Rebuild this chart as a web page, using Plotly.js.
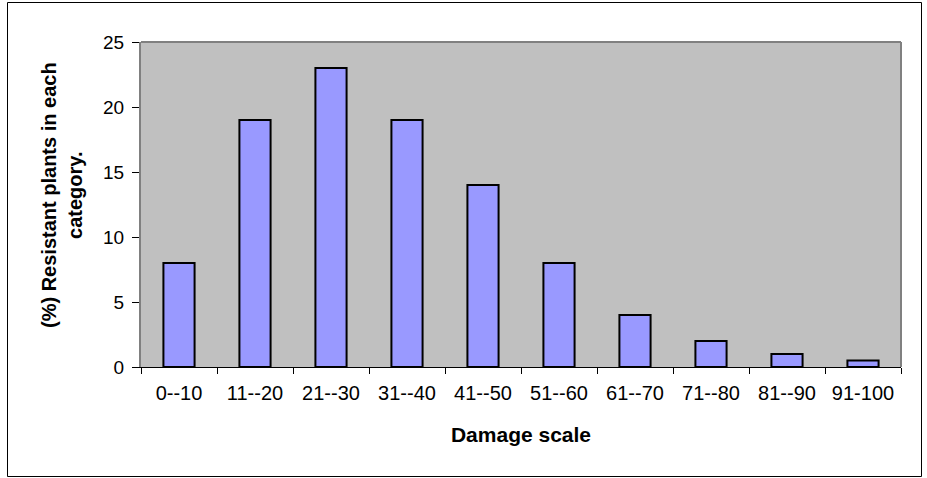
<!DOCTYPE html>
<html><head><meta charset="utf-8">
<script src="https://cdn.plot.ly/plotly-3.0.1.min.js"></script>
<style>html,body{margin:0;padding:0;background:#fff;}#chart{width:927px;height:478px;}</style>
</head><body><div id="chart"></div>
<script>
const categories = ["0--10","11--20","21--30","31--40","41--50","51--60","61--70","71--80","81--90","91-100"];
const resistantPct = [8, 19, 23, 19, 14, 8, 4, 2, 1, 0.5];
const yTicks = [0, 5, 10, 15, 20, 25];

const L = 141, R = 901, T = 42, B = 367, W = 927, H = 478;
const px = x => (x - L) / (R - L);
const py = y => (B - y) / (B - T);

Plotly.newPlot('chart', [{
  type: 'bar', x: categories, y: resistantPct,
  marker: {color: '#9999FF', line: {color: '#000000', width: 2}},
  hoverinfo: 'skip'
}], {
  width: W, height: H,
  margin: {l: L, r: W - R, t: T, b: H - B, pad: 0},
  paper_bgcolor: '#ffffff', plot_bgcolor: '#C0C0C0',
  bargap: 0.59, showlegend: false,
  font: {family: 'Liberation Sans, Arial, sans-serif', size: 19, color: '#000'},
  xaxis: {type: 'category', tickson: 'boundaries', ticks: 'outside', ticklen: 6, tickcolor: '#000',
    showline: true, linecolor: '#000', linewidth: 1, showgrid: false, zeroline: false,
    tickfont: {size: 20}, ticklabelstandoff: 8, automargin: false,
    title: {text: '<b>Damage scale</b>', font: {size: 21}, standoff: 24}},
  yaxis: {range: [0, 25], tickvals: yTicks, ticks: 'outside', ticklen: 7, tickcolor: '#000',
    showline: true, linecolor: '#808080', linewidth: 2, showgrid: false, zeroline: false,
    tickfont: {size: 19}, ticklabelstandoff: 4, automargin: false},
  annotations: [{
    text: '<b>(%) Resistant plants in each<br>category.</b>', textangle: -90,
    xref: 'paper', yref: 'paper', x: px(62), y: py(195), xanchor: 'center', yanchor: 'middle',
    showarrow: false, font: {size: 20, color: '#000'}
  }],
  shapes: [
    {type: 'line', xref: 'paper', yref: 'paper', x0: 0, x1: 1, y0: 1, y1: 1, line: {color: '#808080', width: 2}},
    {type: 'line', xref: 'paper', yref: 'paper', x0: 1, x1: 1, y0: 0, y1: 1, line: {color: '#808080', width: 2}},
    {type: 'rect', xref: 'paper', yref: 'paper', x0: px(7.5), x1: px(921.5), y0: py(476.5), y1: py(2.5),
     line: {color: '#000', width: 1}, layer: 'above'}
  ]
}, {displayModeBar: false, staticPlot: true});
</script></body></html>
